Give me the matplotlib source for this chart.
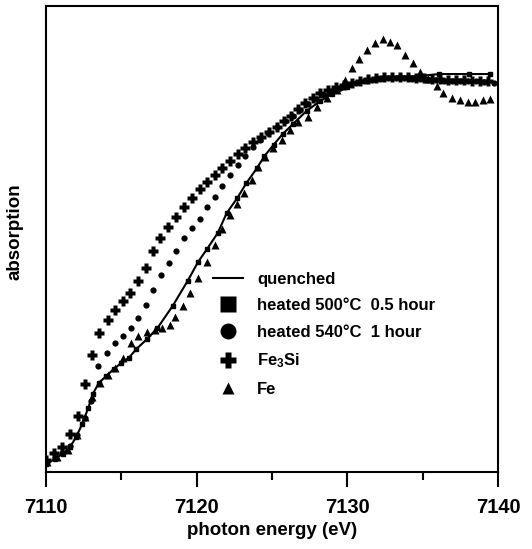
import matplotlib
matplotlib.use("Agg")
import matplotlib.pyplot as plt
from matplotlib.lines import Line2D
from matplotlib.ticker import MultipleLocator

plt.rcParams['font.family'] = ['Liberation Sans', 'DejaVu Sans']
plt.rcParams['font.weight'] = 'bold'
plt.rcParams['axes.labelweight'] = 'bold'
plt.rcParams['mathtext.fontset'] = 'custom'
plt.rcParams['mathtext.rm'] = 'Liberation Sans:bold'
plt.rcParams['mathtext.default'] = 'rm'

# quenched sample (solid line)
e_quenched = [7110.0, 7110.6, 7111.1, 7111.6, 7112.0, 7112.4, 7112.8, 7113.1, 7113.5, 7114.0,
              7114.5, 7115.0, 7115.5, 7116.0, 7116.7, 7117.4, 7118.4, 7119.4, 7120.1, 7120.7,
              7121.4, 7122.0, 7122.7, 7123.3, 7124.0, 7124.5, 7125.1, 7125.7, 7126.4, 7127.3,
              7128.2, 7129.0, 7130.0, 7131.3, 7132.2, 7133.5, 7134.8, 7136.1, 7138.1, 7139.5]
a_quenched = [0.017, 0.028, 0.039, 0.054, 0.075, 0.103, 0.137, 0.167, 0.191, 0.206,
              0.221, 0.234, 0.245, 0.264, 0.285, 0.309, 0.356, 0.410, 0.451, 0.479,
              0.513, 0.556, 0.588, 0.620, 0.652, 0.678, 0.702, 0.725, 0.747, 0.775,
              0.796, 0.811, 0.826, 0.839, 0.845, 0.848, 0.850, 0.854, 0.854, 0.854]

# heated 500 C 0.5 hour (lies on top of the quenched curve)
e_h500 = e_quenched
a_h500 = a_quenched

# heated 540 C 1 hour
e_h540 = [7110.07, 7110.60, 7111.06, 7111.59, 7112.06, 7112.59, 7112.99, 7113.45, 7114.05, 7114.58,
          7115.11, 7115.64, 7116.10, 7116.64, 7117.10, 7117.63, 7118.16, 7118.63, 7119.16, 7119.69,
          7120.22, 7120.68, 7121.21, 7121.68, 7122.21, 7122.74, 7123.20, 7123.74, 7124.20, 7124.73,
          7125.33, 7125.86, 7126.39, 7126.85, 7127.39, 7127.92, 7128.45, 7128.98, 7129.51, 7130.04,
          7130.57, 7131.10, 7131.63, 7132.16, 7132.69, 7133.22, 7133.76, 7134.29, 7134.82, 7135.35,
          7135.88, 7136.41, 7136.94, 7137.47, 7138.00, 7138.53, 7139.06, 7139.73]
a_h540 = [0.021, 0.030, 0.041, 0.056, 0.079, 0.116, 0.152, 0.227, 0.255, 0.277,
          0.292, 0.309, 0.330, 0.358, 0.391, 0.423, 0.448, 0.474, 0.502, 0.524,
          0.543, 0.569, 0.590, 0.614, 0.637, 0.659, 0.678, 0.697, 0.712, 0.727,
          0.740, 0.753, 0.764, 0.777, 0.790, 0.800, 0.809, 0.818, 0.824, 0.830,
          0.835, 0.839, 0.841, 0.843, 0.845, 0.845, 0.845, 0.843, 0.843, 0.841,
          0.841, 0.839, 0.839, 0.839, 0.839, 0.839, 0.837, 0.835]

# Fe3Si reference
e_fe3si = [7110.00, 7110.53, 7111.06, 7111.59, 7112.12, 7112.59, 7113.05, 7113.52, 7114.11, 7114.58,
           7115.11, 7115.57, 7116.10, 7116.64, 7117.10, 7117.56, 7118.10, 7118.63, 7119.16, 7119.69,
           7120.22, 7120.68, 7121.21, 7121.68, 7122.21, 7122.74, 7123.20, 7123.74, 7124.27, 7124.80,
           7125.33, 7125.79, 7126.26, 7126.72, 7127.19, 7127.72, 7128.18, 7128.71, 7129.24, 7129.77,
           7130.31, 7130.84, 7131.37, 7131.90, 7132.43, 7132.96, 7133.49, 7134.02, 7134.55, 7135.08,
           7135.61, 7136.14, 7136.68, 7137.21, 7137.74, 7138.27, 7138.80, 7139.33]
a_fe3si = [0.026, 0.041, 0.054, 0.082, 0.120, 0.189, 0.251, 0.298, 0.326, 0.348,
           0.367, 0.384, 0.410, 0.438, 0.474, 0.502, 0.526, 0.547, 0.569, 0.588,
           0.607, 0.622, 0.637, 0.652, 0.667, 0.682, 0.695, 0.708, 0.719, 0.730,
           0.740, 0.753, 0.764, 0.779, 0.792, 0.803, 0.813, 0.820, 0.826, 0.830,
           0.835, 0.839, 0.843, 0.845, 0.848, 0.848, 0.848, 0.848, 0.845, 0.845,
           0.843, 0.843, 0.841, 0.841, 0.841, 0.839, 0.839, 0.839]

# Fe foil reference
e_fe = [7110.07, 7110.73, 7111.46, 7112.06, 7112.59, 7113.05, 7113.58, 7114.11, 7114.58, 7115.11,
        7115.64, 7116.10, 7116.70, 7117.23, 7117.70, 7118.23, 7118.56, 7119.09, 7119.56, 7120.09,
        7120.68, 7121.21, 7121.68, 7122.21, 7122.67, 7123.14, 7123.67, 7124.07, 7124.53, 7125.06,
        7125.66, 7126.19, 7126.72, 7127.39, 7127.98, 7128.65, 7129.31, 7129.84, 7130.31, 7130.77,
        7131.30, 7131.83, 7132.36, 7132.83, 7133.29, 7133.82, 7134.35, 7134.82, 7135.35, 7135.95,
        7136.34, 7136.94, 7137.47, 7138.00, 7138.47, 7139.00, 7139.46]
a_fe = [0.021, 0.032, 0.047, 0.079, 0.118, 0.161, 0.191, 0.208, 0.223, 0.245,
        0.277, 0.292, 0.300, 0.305, 0.309, 0.315, 0.333, 0.356, 0.384, 0.416,
        0.451, 0.487, 0.521, 0.552, 0.575, 0.599, 0.627, 0.655, 0.676, 0.695,
        0.712, 0.734, 0.751, 0.762, 0.783, 0.803, 0.820, 0.841, 0.867, 0.886,
        0.906, 0.921, 0.929, 0.923, 0.916, 0.895, 0.878, 0.858, 0.843, 0.828,
        0.813, 0.803, 0.798, 0.794, 0.794, 0.798, 0.800]

labels = ['quenched', 'heated 500°C  0.5 hour', 'heated 540°C  1 hour', 'Fe$_3$Si', 'Fe']

fig = plt.figure(figsize=(5.32, 5.49), dpi=100)
ax = fig.add_axes([46/532, 77/549, 452/532, 466/549])

ax.plot(e_quenched, a_quenched, '-', color='k', lw=1.5, zorder=2)
ax.plot(e_h500, a_h500, 's', color='k', ms=2.5, zorder=3)
ax.plot(e_h540, a_h540, 'o', color='k', ms=4.5, mec='none', zorder=3)
ax.plot(e_fe3si, a_fe3si, 'P', color='k', ms=7, mec='none', zorder=3)
ax.plot(e_fe, a_fe, '^', color='k', ms=6, mec='none', zorder=3)

ax.set_xlim(7110, 7140)
ax.set_ylim(0, 1)
ax.xaxis.set_major_locator(MultipleLocator(10))
ax.xaxis.set_minor_locator(MultipleLocator(5))
ax.tick_params(axis='x', which='major', direction='out', length=10.5, width=1.5,
               pad=8, labelsize=14.5)
ax.tick_params(axis='x', which='minor', direction='out', length=5.5, width=1.5)
ax.set_yticks([])
for s in ax.spines.values():
    s.set_linewidth(1.5)

ax.set_xlabel('photon energy (eV)', fontsize=13.5, labelpad=4)
ax.set_ylabel('absorption', fontsize=13.5)
ax.yaxis.set_label_coords(-0.05, 0.515)

handles = [
    Line2D([], [], color='k', lw=1.5),
    Line2D([], [], ls='none', marker='s', color='k', ms=11, mec='none'),
    Line2D([], [], ls='none', marker='o', color='k', ms=11.5, mec='none'),
    Line2D([], [], ls='none', marker='P', color='k', ms=11, mec='none'),
    Line2D([], [], ls='none', marker='^', color='k', ms=9, mec='none'),
]
ax.legend(handles, labels, loc='upper left', bbox_to_anchor=(0.369, 0.43),
          frameon=False, fontsize=12, handlelength=1.8, handletextpad=0.85,
          labelspacing=0.7, borderpad=0, borderaxespad=0)

fig.savefig('out.png', dpi=100)
